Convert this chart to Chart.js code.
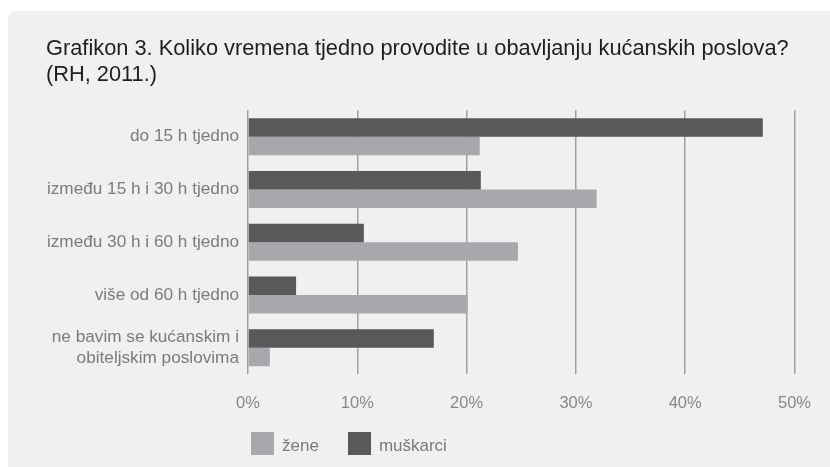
<!DOCTYPE html>
<html>
<head>
<meta charset="utf-8">
<script src="https://cdn.jsdelivr.net/npm/chart.js@4.4.1/dist/chart.umd.min.js"></script>
<style>
  html, body { margin: 0; padding: 0; background: #fff; }
  #wrap { position: relative; width: 830px; height: 467px; overflow: hidden; }
  #panel { position: absolute; left: 8px; top: 11px; right: 0; bottom: 0; background: #f0f0f0; border-top-left-radius: 7px; }
  #chart { position: absolute; left: 0; top: 0; }
  #legend { position: absolute; left: 251px; top: 432px; display: flex; font: 17px "Liberation Sans", Arial, sans-serif; color: #7a7a7a; }
  #legend .item { display: flex; align-items: flex-end; margin-right: 29px; }
  #legend .box { width: 23px; height: 23px; margin-right: 8px; }
  #legend span { line-height: 19px; }
</style>
</head>
<body>
<div id="wrap">
  <div id="panel"></div>
  <canvas id="chart" width="830" height="467"></canvas>
  <div id="legend"></div>
</div>
<script>
// ---------------- PODACI ----------------
const kategorije = [
  "do 15 h tjedno",
  "između 15 h i 30 h tjedno",
  "između 30 h i 60 h tjedno",
  "više od 60 h tjedno",
  ["ne bavim se kućanskim i", "obiteljskim poslovima"]
];
const muskarci = [47.1, 21.3, 10.6, 4.4, 17.0];
const zene = [21.2, 31.9, 24.7, 20.1, 2.0];
const xTicks = [0, 10, 20, 30, 40, 50];

const bojaMuskarci = "#58595b";
const bojaZene = "#a7a8ab";

const font = "'Liberation Sans', Arial, sans-serif";

// ---------------- GRAFIKON ----------------
const ctx = document.getElementById("chart");
const chart = new Chart(ctx, {
  type: "bar",
  data: {
    labels: kategorije,
    datasets: [
      { label: "muškarci", data: muskarci, backgroundColor: bojaMuskarci },
      { label: "žene", data: zene, backgroundColor: bojaZene }
    ]
  },
  options: {
    indexAxis: "y",
    responsive: false,
    animation: false,
    categoryPercentage: 0.7,
    barPercentage: 1.0,
    layout: { padding: { left: 46, right: 32, top: 24, bottom: 35 } },
    plugins: {
      legend: { display: false },
      tooltip: { enabled: false },
      title: {
        display: true,
        align: "start",
        text: [
          "Grafikon 3. Koliko vremena tjedno provodite u obavljanju kućanskih poslova?",
          "(RH, 2011.)"
        ],
        color: "#1e1e1e",
        font: { family: font, size: 21.8, weight: "normal", lineHeight: 1.2 },
        padding: { top: 12, bottom: 22 }
      }
    },
    scales: {
      x: {
        min: xTicks[0],
        max: xTicks[xTicks.length - 1],
        afterBuildTicks: (s) => { s.ticks = xTicks.map(v => ({ value: v })); },
        grid: { color: "#a0a0a0", lineWidth: 1.5, drawTicks: false },
        border: { display: false },
        ticks: {
          color: "#888",
          padding: 19,
          font: { family: font, size: 16.5 },
          callback: (v) => v + "%"
        }
      },
      y: {
        afterFit: (s) => { s.width = 202; },
        grid: { display: false, drawTicks: false },
        border: { display: false },
        ticks: {
          color: "#7b7b7b",
          padding: 9,
          font: { family: font, size: 17.2, lineHeight: 1.25 }
        }
      }
    }
  }
});

// ---------------- LEGENDA ----------------
const legend = document.getElementById("legend");
[...chart.data.datasets].reverse().forEach((ds) => {
  legend.innerHTML += `<div class="item"><div class="box" style="background:${ds.backgroundColor}"></div><span>${ds.label}</span></div>`;
});
</script>
</body>
</html>
